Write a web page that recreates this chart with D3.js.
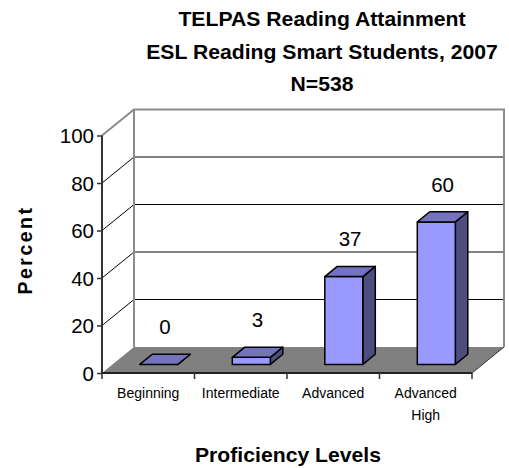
<!DOCTYPE html>
<html><head><meta charset="utf-8">
<script src="https://cdn.jsdelivr.net/npm/d3@7"></script>
<style>body{margin:0;background:#fff}svg{display:block}text{font-family:"Liberation Sans",Arial,sans-serif}</style>
</head><body><svg id="c" width="509" height="468"></svg>
<script>
const categories = ["Beginning", "Intermediate", "Advanced", "Advanced\nHigh"];
const values = [0, 3, 37, 60];
const yTicks = [0, 20, 40, 60, 80, 100];
const titleLines = ["TELPAS Reading Attainment", "ESL Reading Smart Students, 2007", "N=538"];
const yTitle = "Percent";
const xTitle = "Proficiency Levels";

const svg = d3.select("#c");
const x0 = 102, x1 = 472, yBot = 373, yTop = 135.5;
const DX = 32, DY = -26;          // full depth offset
const f0 = 0.33, f1 = 0.72;        // bar depth fractions

const x = d3.scaleBand().domain(categories).range([x0, x1]).paddingInner(0.589).paddingOuter(0.2945);
const xc = d3.scaleBand().domain(categories).range([x0, x1]);
const y = d3.scaleLinear().domain([0, 100]).range([yBot, yTop]);

// back wall
svg.append("rect").attr("x", x0 + DX).attr("y", y(100) + DY)
  .attr("width", x1 - x0).attr("height", y(0) - y(100))
  .attr("fill", "#fff");
// left wall
svg.append("polygon")
  .attr("points", [[x0, y(0)], [x0, y(100)], [x0 + DX, y(100) + DY], [x0 + DX, y(0) + DY]].join(" "))
  .attr("fill", "#fff");
// gridlines
yTicks.filter(t => t > 0 && t < 100).forEach(t => {
  svg.append("line").attr("x1", x0 + DX).attr("x2", x1 + DX)
    .attr("y1", y(t) + DY).attr("y2", y(t) + DY).attr("stroke", "#000").attr("stroke-width", 1);
  svg.append("line").attr("x1", x0).attr("x2", x0 + DX)
    .attr("y1", y(t)).attr("y2", y(t) + DY).attr("stroke", "#000").attr("stroke-width", 1);
});
// wall borders
svg.append("path")
  .attr("d", `M${x0},${y(100)}L${x0 + DX},${y(100) + DY}L${x1 + DX},${y(100) + DY}L${x1 + DX},${y(0) + DY}`)
  .attr("fill", "none").attr("stroke", "#8c8c8c").attr("stroke-width", 2);
svg.append("line").attr("x1", x0 + DX).attr("x2", x0 + DX).attr("y1", y(100) + DY).attr("y2", y(0) + DY)
  .attr("stroke", "#8c8c8c").attr("stroke-width", 2);
// floor
svg.append("polygon")
  .attr("points", [[x0, y(0)], [x1, y(0)], [x1 + DX, y(0) + DY], [x0 + DX, y(0) + DY]].join(" "))
  .attr("fill", "#808080");
svg.append("line").attr("x1", x1).attr("y1", y(0)).attr("x2", x1 + DX).attr("y2", y(0) + DY)
  .attr("stroke", "#333").attr("stroke-width", 1);

// axes
svg.append("line").attr("x1", x0).attr("x2", x0).attr("y1", y(100)).attr("y2", y(0))
  .attr("stroke", "#333").attr("stroke-width", 2);
svg.append("line").attr("x1", x0).attr("x2", x1).attr("y1", y(0)).attr("y2", y(0))
  .attr("stroke", "#222").attr("stroke-width", 2);
const yAxisG = svg.append("g").attr("transform", `translate(${x0},0)`)
  .call(d3.axisLeft(y).tickValues(yTicks).tickSize(5).tickPadding(3));
yAxisG.select(".domain").remove();
yAxisG.selectAll(".tick line").attr("stroke", "#333").attr("stroke-width", 1.5);
yAxisG.selectAll(".tick text").attr("font-size", 20.5).attr("fill", "#000")
  .attr("font-family", "Liberation Sans, Arial, sans-serif").attr("dy", "0.35em");

// category ticks
const bounds = categories.map(c => xc(c)).concat([x1]);
bounds.forEach(b => {
  svg.append("line").attr("x1", b).attr("x2", b).attr("y1", y(0)).attr("y2", y(0) + 6)
    .attr("stroke", "#333").attr("stroke-width", 1.5);
});
// category labels
categories.forEach(c => {
  const t = svg.append("text").attr("x", xc(c) + xc.bandwidth() / 2).attr("y", 398)
    .attr("text-anchor", "middle").attr("font-size", 14).attr("fill", "#000");
  c.split("\n").forEach((s, i) => t.append("tspan").attr("x", xc(c) + xc.bandwidth() / 2)
    .attr("dy", i === 0 ? 0 : 22).text(s));
});

// bars
const bars = svg.append("g");
categories.forEach((c, i) => {
  const v = values[i];
  const xa = x(c), xb = x(c) + x.bandwidth();
  const ya = y(v), yb = y(0);
  const ox0 = DX * f0, oy0 = DY * f0, ox1 = DX * f1, oy1 = DY * f1;
  const g = bars.append("g").attr("stroke", "#000").attr("stroke-width", 1.5).attr("stroke-linejoin", "round");
  g.append("polygon").attr("points", [[xb + ox0, ya + oy0], [xb + ox1, ya + oy1], [xb + ox1, yb + oy1], [xb + ox0, yb + oy0]].join(" "))
    .attr("fill", "#4d4d80");
  g.append("rect").attr("x", xa + ox0).attr("y", ya + oy0).attr("width", xb - xa).attr("height", yb - ya)
    .attr("fill", "#9999ff");
  g.append("polygon").attr("points", [[xa + ox0, ya + oy0], [xb + ox0, ya + oy0], [xb + ox1, ya + oy1], [xa + ox1, ya + oy1]].join(" "))
    .attr("fill", "#7373bf");
  svg.append("text").attr("x", x(c) + x.bandwidth() / 2 + DX * (f0 + f1) / 2)
    .attr("y", ya + DY * (f0 + f1) / 2 - 25)
    .attr("text-anchor", "middle").attr("font-size", 20.5).attr("fill", "#000").text(v);
});

// titles
titleLines.forEach((s, i) => {
  svg.append("text").attr("transform", `translate(322,${26 + i * 32.5}) scale(1.06,1)`)
    .attr("text-anchor", "middle").attr("font-size", 20).attr("font-weight", "bold").attr("fill", "#000").text(s);
});
svg.append("text").attr("transform", "translate(32,250) rotate(-90)")
  .attr("text-anchor", "middle").attr("font-size", 19.5).attr("font-weight", "bold")
  .attr("letter-spacing", 2.5).attr("fill", "#000").text(yTitle);
svg.append("text").attr("transform", "translate(288,462) scale(1.06,1)")
  .attr("text-anchor", "middle").attr("font-size", 20).attr("font-weight", "bold").attr("fill", "#000").text(xTitle);
</script></body></html>
